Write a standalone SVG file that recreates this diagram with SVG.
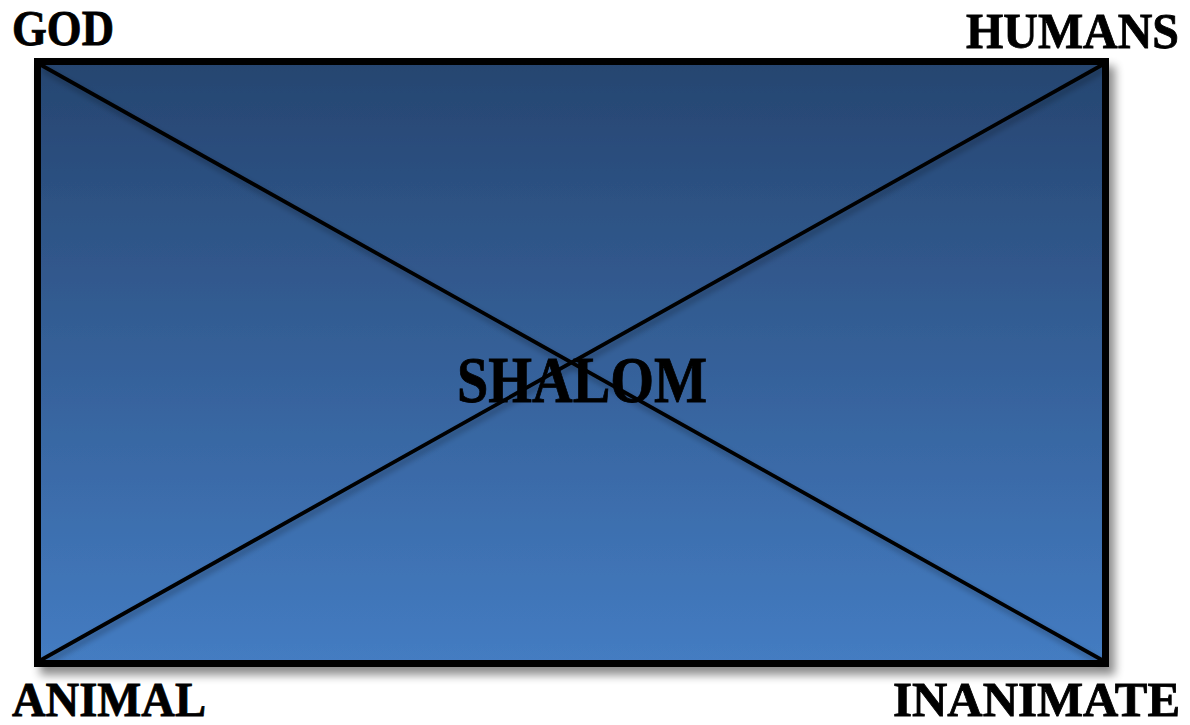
<svg xmlns="http://www.w3.org/2000/svg" width="1190" height="725" viewBox="0 0 1190 725">
  <style>
    .lbl { font-family: "Liberation Serif", "DejaVu Serif", serif; font-weight: bold; fill: #000; stroke: #000; stroke-width: 0.8; }
    .diag { stroke: #000; stroke-width: 3.8; fill: none; }
  </style>
  <defs>
    <linearGradient id="bg" x1="0" y1="0" x2="0" y2="1">
      <stop offset="0" stop-color="#264570"/>
      <stop offset="1" stop-color="#447cc2"/>
    </linearGradient>
    <filter id="shadow" x="-5%" y="-5%" width="112%" height="115%">
      <feGaussianBlur in="SourceAlpha" stdDeviation="5"/>
      <feOffset dx="6" dy="8" result="b"/>
      <feComponentTransfer><feFuncA type="linear" slope="0.45"/></feComponentTransfer>
      <feMerge><feMergeNode/><feMergeNode in="SourceGraphic"/></feMerge>
    </filter>
    <filter id="lshadow" x="-5%" y="-5%" width="110%" height="110%">
      <feGaussianBlur in="SourceAlpha" stdDeviation="3"/>
      <feOffset dx="2" dy="4"/>
      <feComponentTransfer><feFuncA type="linear" slope="0.35"/></feComponentTransfer>
      <feMerge><feMergeNode/><feMergeNode in="SourceGraphic"/></feMerge>
    </filter>
  </defs>
  <rect width="1190" height="725" fill="#fff"/>
  <g id="shalom-box">
    <rect x="37.5" y="61.5" width="1068" height="602" fill="url(#bg)" stroke="#000" stroke-width="7" filter="url(#shadow)"/>
  </g>
  <g id="connectors" filter="url(#lshadow)">
    <line class="diag" x1="41" y1="65" x2="1102" y2="660"/>
    <line class="diag" x1="41" y1="660" x2="1102" y2="65"/>
  </g>
  <g id="god"><text class="lbl" x="12" y="45" font-size="50" textLength="102" lengthAdjust="spacingAndGlyphs">GOD</text></g>
  <g id="humans"><text class="lbl" x="966" y="48" font-size="50" textLength="213" lengthAdjust="spacingAndGlyphs">HUMANS</text></g>
  <g id="animal"><text class="lbl" x="12" y="716" font-size="48" textLength="194" lengthAdjust="spacingAndGlyphs">ANIMAL</text></g>
  <g id="inanimate"><text class="lbl" x="893" y="716" font-size="48" textLength="287" lengthAdjust="spacingAndGlyphs">INANIMATE</text></g>
  <g id="shalom"><text class="lbl" x="457" y="402" font-size="66" textLength="250" lengthAdjust="spacingAndGlyphs">SHALOM</text></g>
</svg>
